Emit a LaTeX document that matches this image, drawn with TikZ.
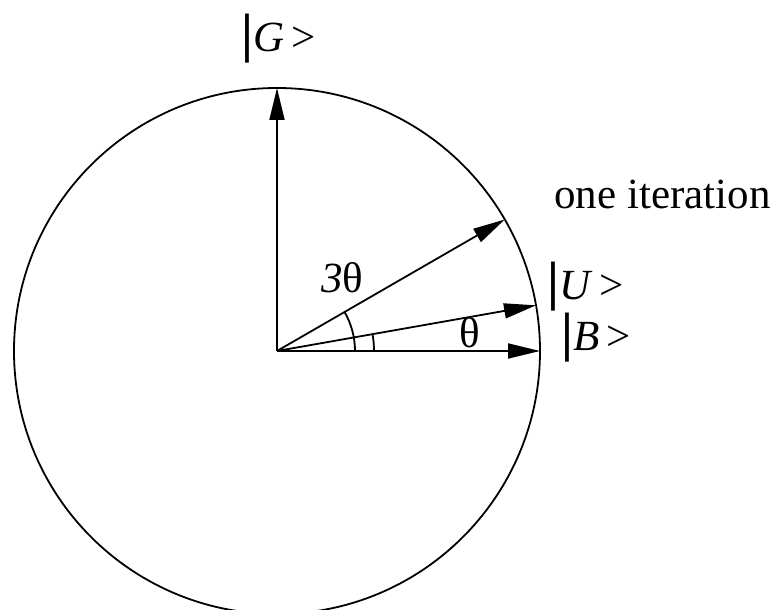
\documentclass[tikz,border=0pt]{standalone}
\usepackage{fontspec}
\setmainfont{Liberation Serif}
\usetikzlibrary{arrows.meta,positioning}

\newcommand{\ketbar}{{\fontsize{27}{27}\selectfont\bfseries|}}

\begin{document}
\begin{tikzpicture}[x=0.5pt, y=0.5pt,
  vec/.style={line width=0.9pt, -{Triangle[length=16pt, width=7.5pt]}},
  lbl/.style={inner sep=0pt, anchor=base west, font=\fontsize{21.5}{24}\selectfont}]
\useasboundingbox (-277,-259) rectangle (499,351);

% Circle
\coordinate (o) at (0,0);
\draw[line width=0.9pt] (o) circle[radius=263];

% State vectors
\coordinate (g) at (90:263);
\coordinate (it) at (30:263);
\coordinate (u) at (10:263);
\coordinate (b) at (0:263);
\draw[vec] (o) -- (g);
\draw[vec] (o) -- (it);
\draw[vec] (o) -- (u);
\draw[vec] (o) -- (b);

% Angle marks
\draw[line width=0.9pt] (o) ++(0:78) arc[start angle=0, end angle=30, radius=78];
\draw[line width=0.9pt] (o) ++(0:97) arc[start angle=0, end angle=10, radius=97];

% Labels
\node[lbl] (lg) at (-36,299) {\ketbar\textit{G}\,>};
\node[lbl] (lu) at (270,51) {\ketbar\textit{U}\,>};
\node[lbl] (lb) at (284,0) {\ketbar\textit{B}\,>};
\node[lbl] (lit) at (277,142) {one iteration};
\node[lbl] (l3) at (44,58) {\textit{3}θ};
\node[lbl] (lt) at (182,3) {θ};
\end{tikzpicture}
\end{document}
